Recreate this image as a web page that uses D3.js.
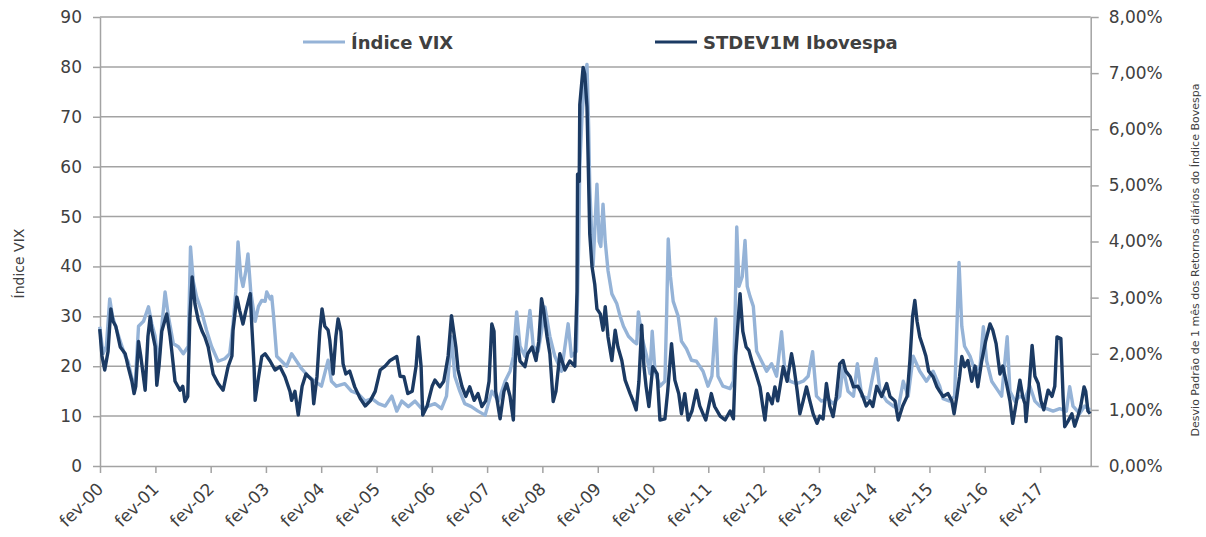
<!DOCTYPE html>
<html><head><meta charset="utf-8">
<script src="https://cdn.jsdelivr.net/npm/d3@7"></script>
<style>
html,body{margin:0;padding:0;background:#fff;}
svg{display:block;}
text{font-family:"DejaVu Sans",Verdana,sans-serif;fill:#404040;}
</style></head>
<body>
<svg id="chart" width="1206" height="537"></svg>
<script>
// ---- DATA (dates as decimal years) ----
const vixDates = [2000.08,2000.14,2000.20,2000.26,2000.31,2000.35,2000.45,2000.54,2000.59,2000.66,2000.72,2000.78,2000.87,2000.96,2001.02,2001.08,2001.14,2001.20,2001.26,2001.32,2001.41,2001.50,2001.59,2001.68,2001.72,2001.77,2001.83,2001.92,2002.01,2002.10,2002.22,2002.34,2002.43,2002.49,2002.54,2002.58,2002.63,2002.67,2002.72,2002.76,2002.81,2002.89,2002.95,2003.01,2003.07,2003.10,2003.16,2003.19,2003.22,2003.28,2003.37,2003.46,2003.55,2003.61,2003.73,2003.85,2003.97,2004.09,2004.21,2004.27,2004.36,2004.51,2004.63,2004.75,2004.88,2005.00,2005.12,2005.24,2005.36,2005.45,2005.54,2005.66,2005.78,2005.90,2006.02,2006.14,2006.26,2006.35,2006.44,2006.50,2006.59,2006.68,2006.80,2006.92,2007.05,2007.17,2007.29,2007.41,2007.50,2007.56,2007.62,2007.68,2007.77,2007.86,2007.92,2008.01,2008.07,2008.13,2008.22,2008.31,2008.43,2008.55,2008.61,2008.70,2008.74,2008.76,2008.80,2008.85,2008.89,2008.92,2008.94,2008.98,2009.00,2009.07,2009.11,2009.14,2009.18,2009.22,2009.27,2009.34,2009.43,2009.49,2009.55,2009.64,2009.73,2009.79,2009.82,2009.88,2009.97,2010.03,2010.07,2010.12,2010.21,2010.30,2010.33,2010.36,2010.40,2010.45,2010.54,2010.60,2010.69,2010.78,2010.87,2010.99,2011.08,2011.15,2011.22,2011.26,2011.35,2011.48,2011.54,2011.57,2011.60,2011.64,2011.70,2011.75,2011.79,2011.84,2011.90,2011.96,2012.05,2012.14,2012.23,2012.32,2012.41,2012.47,2012.56,2012.68,2012.80,2012.89,2012.97,2013.04,2013.13,2013.25,2013.34,2013.46,2013.52,2013.61,2013.71,2013.78,2013.86,2013.98,2014.12,2014.19,2014.31,2014.43,2014.52,2014.61,2014.70,2014.79,2014.91,2015.03,2015.15,2015.27,2015.33,2015.45,2015.54,2015.62,2015.67,2015.72,2015.82,2015.91,2016.00,2016.06,2016.12,2016.21,2016.30,2016.39,2016.49,2016.54,2016.63,2016.72,2016.81,2016.90,2016.99,2017.08,2017.20,2017.32,2017.44,2017.56,2017.62,2017.68,2017.80,2017.89,2017.99];
const vixValues = [27.9,22.5,24,33.5,30,28.5,25,22,21,17.5,16.5,28,29,31.9,28.5,26,20,28,34.9,30,24.5,23.9,22.5,24,43.9,37,33.9,31,27.2,24,21,21.5,22.5,28.5,35,44.9,38,36,39,42.5,35,29,32,33.2,33,34.9,33.5,34,30.5,22,21,20,22.5,21.5,19.5,18,17,16,21.2,17,16,16.5,15,14.5,13,13.5,12.5,12,14,11,13,11.9,13,11.5,12,12.5,11.5,14,25.9,18,15,12.5,11.9,11,10.2,15,13,17,19,22,30.9,24,22,31.2,24,23,27,31.9,26,22,19,28.5,22,23,45,60,70,78,80.5,68,56,45,40,56.5,45,44,52.5,45,39.2,34.5,32.5,30,28,26,25,24.5,30.9,26,22,18.5,27,19,16,17,30,45.5,38,33,30,25,23.5,21.2,21,19,16,18,29.5,18,16,15.5,17,30,47.9,36,38,45.2,36,34,32,23,21,19,20.5,18,26.9,19,17,16.5,17,18,22.9,14,13,13.5,12.5,14,19.9,15,14,20.5,14,13.5,21.5,15,13,12,11.5,17,14,22,19,17,19,16,13.5,13,14,40.8,28,24,22,19,20,27.9,21,17,15.5,14,25.9,15,13,14,13.5,16,13,12,11.5,11,11.5,11,15.9,12,10.5,12,11.2];

const ibovDates = [2000.08,2000.12,2000.17,2000.23,2000.28,2000.32,2000.37,2000.45,2000.54,2000.59,2000.66,2000.70,2000.73,2000.78,2000.82,2000.90,2000.95,2000.99,2001.02,2001.08,2001.11,2001.15,2001.20,2001.29,2001.35,2001.38,2001.44,2001.53,2001.58,2001.62,2001.67,2001.71,2001.75,2001.80,2001.86,2001.93,2001.98,2002.04,2002.13,2002.22,2002.31,2002.40,2002.47,2002.49,2002.56,2002.61,2002.67,2002.72,2002.80,2002.83,2002.87,2002.89,2002.94,2003.01,2003.07,2003.16,2003.25,2003.34,2003.43,2003.52,2003.55,2003.61,2003.67,2003.74,2003.81,2003.92,2003.95,2004.01,2004.06,2004.10,2004.15,2004.21,2004.24,2004.30,2004.35,2004.39,2004.44,2004.48,2004.53,2004.60,2004.69,2004.79,2004.88,2004.97,2005.06,2005.15,2005.24,2005.33,2005.45,2005.51,2005.58,2005.65,2005.73,2005.80,2005.84,2005.89,2005.92,2006.00,2006.09,2006.14,2006.23,2006.30,2006.38,2006.44,2006.48,2006.52,2006.56,2006.63,2006.70,2006.77,2006.85,2006.92,2006.99,2007.06,2007.12,2007.17,2007.21,2007.24,2007.32,2007.39,2007.44,2007.50,2007.56,2007.59,2007.62,2007.68,2007.77,2007.82,2007.90,2007.97,2008.02,2008.07,2008.11,2008.17,2008.22,2008.28,2008.33,2008.40,2008.49,2008.58,2008.67,2008.71,2008.72,2008.75,2008.76,2008.82,2008.85,2008.89,2008.91,2008.94,2008.98,2009.03,2009.07,2009.13,2009.18,2009.22,2009.27,2009.34,2009.40,2009.45,2009.52,2009.58,2009.67,2009.72,2009.78,2009.83,2009.88,2009.92,2009.96,2010.01,2010.08,2010.16,2010.21,2010.30,2010.35,2010.42,2010.48,2010.55,2010.60,2010.66,2010.72,2010.79,2010.87,2010.93,2010.99,2011.04,2011.14,2011.20,2011.30,2011.39,2011.48,2011.54,2011.58,2011.66,2011.71,2011.77,2011.82,2011.87,2011.95,2012.02,2012.07,2012.11,2012.16,2012.24,2012.29,2012.34,2012.44,2012.51,2012.59,2012.63,2012.69,2012.74,2012.80,2012.86,2012.92,2012.98,2013.05,2013.10,2013.16,2013.22,2013.28,2013.34,2013.40,2013.46,2013.52,2013.57,2013.65,2013.71,2013.79,2013.86,2013.94,2014.01,2014.06,2014.13,2014.22,2014.31,2014.37,2014.46,2014.52,2014.60,2014.68,2014.73,2014.78,2014.82,2014.86,2014.91,2014.97,2015.02,2015.07,2015.15,2015.22,2015.27,2015.33,2015.42,2015.49,2015.53,2015.58,2015.63,2015.67,2015.72,2015.78,2015.85,2015.91,2015.96,2016.03,2016.10,2016.18,2016.23,2016.29,2016.36,2016.41,2016.47,2016.54,2016.59,2016.65,2016.72,2016.77,2016.81,2016.83,2016.88,2016.94,2016.99,2017.05,2017.10,2017.15,2017.23,2017.30,2017.35,2017.39,2017.46,2017.50,2017.53,2017.59,2017.66,2017.71,2017.77,2017.82,2017.88,2017.91,2017.95,2017.99];
const ibovValues = [2.44,1.96,1.71,2.04,2.80,2.58,2.49,2.12,2.00,1.78,1.51,1.29,1.42,2.22,1.96,1.35,2.31,2.66,2.42,2.13,1.44,1.78,2.40,2.71,2.31,2.06,1.51,1.35,1.42,1.15,1.24,2.67,3.37,2.89,2.60,2.40,2.30,2.12,1.64,1.47,1.35,1.77,1.96,2.42,3.01,2.77,2.53,2.76,3.07,2.49,1.78,1.17,1.51,1.95,2.00,1.87,1.71,1.77,1.59,1.33,1.17,1.33,0.91,1.42,1.64,1.53,1.11,1.60,2.40,2.80,2.49,2.42,2.24,1.64,2.31,2.62,2.40,1.82,1.64,1.69,1.41,1.20,1.07,1.16,1.33,1.71,1.78,1.88,1.95,1.60,1.59,1.29,1.33,1.78,2.30,1.78,0.91,1.07,1.42,1.53,1.41,1.51,1.96,2.68,2.40,2.12,1.71,1.42,1.24,1.41,1.17,1.29,1.06,1.16,1.51,2.53,2.40,1.33,0.84,1.33,1.47,1.24,0.82,1.78,2.30,1.87,1.77,2.00,2.12,1.88,2.22,2.98,2.76,2.30,2.00,1.15,1.33,2.00,1.71,1.87,1.78,3.11,5.20,5.07,6.44,7.10,6.98,6.40,5.50,4.13,3.56,3.24,2.80,2.71,2.42,2.84,2.30,1.88,2.42,2.12,1.88,1.53,1.29,1.17,1.00,1.51,2.51,1.78,1.41,1.06,1.77,1.64,0.82,0.84,1.33,2.18,1.53,1.29,0.93,1.29,0.82,0.98,1.35,1.07,0.93,0.82,1.29,1.06,0.89,0.82,0.98,0.84,1.96,3.07,2.40,2.12,2.06,1.88,1.64,1.41,1.07,0.82,1.29,1.11,1.41,1.16,1.77,1.51,2.00,1.78,1.35,0.93,1.16,1.41,1.16,0.93,0.76,0.89,0.84,1.47,1.07,0.88,1.24,1.82,1.88,1.69,1.59,1.41,1.42,1.29,1.07,1.16,1.06,1.42,1.24,1.47,1.24,1.16,0.82,1.07,1.24,1.87,2.67,2.95,2.58,2.30,2.12,1.96,1.69,1.59,1.41,1.33,1.24,1.29,1.16,0.93,1.24,1.60,1.95,1.77,1.88,1.51,1.78,1.41,1.87,2.22,2.53,2.42,2.18,1.64,1.78,1.51,1.16,0.76,1.11,1.53,1.24,1.11,0.79,1.33,2.15,1.60,1.47,1.16,1.00,1.35,1.24,1.42,2.30,2.27,1.24,0.70,0.80,0.93,0.71,0.89,1.07,1.41,1.33,0.98,0.93];

const leftTicks = [0,10,20,30,40,50,60,70,80,90];
const rightTicks = [0,1,2,3,4,5,6,7,8];
const xTickYears = [2000,2001,2002,2003,2004,2005,2006,2007,2008,2009,2010,2011,2012,2013,2014,2015,2016,2017];
const xTickLabels = xTickYears.map(y => "fev-" + String(y % 100).padStart(2, "0"));
const seriesNames = ["Índice VIX", "STDEV1M Ibovespa"];
const leftTitle = "Índice VIX";
const rightTitle = "Desvio Padrão de 1 mês dos Retornos diários do Índice Bovespa";

// ---- LAYOUT ----
const M = {left: 100, right: 1090.7, top: 17, bottom: 466};
const colVix = "#95B3D7", colIbov = "#1B3A63", grid = "#A3A3A3";

function fromDec(y){
  const yr = Math.floor(y);
  const s = new Date(yr,0,1), e = new Date(yr+1,0,1);
  return new Date(+s + (y-yr)*(e-s));
}

const svg = d3.select("#chart");
const x = d3.scaleTime().domain([new Date(2000,1,1), new Date(2018,0,1)]).range([M.left, M.right]);
const yL = d3.scaleLinear().domain([0,90]).range([M.bottom, M.top]);
const yR = d3.scaleLinear().domain([0,8]).range([M.bottom, M.top]);

// gridlines
svg.append("g").selectAll("line").data(leftTicks.filter(d=>d>0)).join("line")
  .attr("x1", M.left).attr("x2", M.right)
  .attr("y1", d=>yL(d)).attr("y2", d=>yL(d))
  .attr("stroke", grid).attr("stroke-width", 1.5);

function styleAxis(g){
  g.selectAll("path.domain").attr("stroke", grid).attr("stroke-width", 1.5);
  g.selectAll(".tick line").attr("stroke", grid).attr("stroke-width", 1.5);
  g.selectAll(".tick text").attr("fill", "#3a3a3a")
    .style("font-family", '"DejaVu Sans",Verdana,sans-serif').style("font-size", "17px");
}

// left axis
const gL = svg.append("g").attr("transform", `translate(${M.left},0)`)
  .call(d3.axisLeft(yL).tickValues(leftTicks).tickSize(7).tickSizeOuter(0).tickPadding(11).tickFormat(d3.format("d")));
styleAxis(gL);

// right axis
const fmtPct = d => d.toFixed(2).replace(".", ",") + "%";
const gR = svg.append("g").attr("transform", `translate(${M.right},0)`)
  .call(d3.axisRight(yR).tickValues(rightTicks).tickSize(8).tickSizeOuter(0).tickPadding(10).tickFormat(fmtPct));
styleAxis(gR);

// bottom axis
const xTicks = xTickYears.map(y => new Date(y,1,1));
const gB = svg.append("g").attr("transform", `translate(0,${M.bottom})`)
  .call(d3.axisBottom(x).tickValues(xTicks).tickSize(7).tickSizeOuter(0).tickFormat((d,i)=>xTickLabels[i]));
styleAxis(gB);
gB.selectAll(".tick text")
  .attr("text-anchor", "end").attr("dy", null).attr("y", null)
  .attr("transform", "translate(4,24) rotate(-45)");

// lines
const lineV = d3.line().x((d,i)=>x(fromDec(vixDates[i]))).y(d=>yL(d));
const lineI = d3.line().x((d,i)=>x(fromDec(ibovDates[i]))).y(d=>yR(d));
svg.append("path").datum(vixValues).attr("d", lineV)
  .attr("fill","none").attr("stroke", colVix).attr("stroke-width", 3.4).attr("stroke-linejoin","round");
svg.append("path").datum(ibovValues).attr("d", lineI)
  .attr("fill","none").attr("stroke", colIbov).attr("stroke-width", 3.4).attr("stroke-linejoin","round");

// legend
const legend = [
  {name: seriesNames[0], color: colVix, x: 303},
  {name: seriesNames[1], color: colIbov, x: 655}
];
const lg = svg.append("g");
legend.forEach(l => {
  lg.append("line").attr("x1", l.x).attr("x2", l.x+42).attr("y1", 42).attr("y2", 42)
    .attr("stroke", l.color).attr("stroke-width", 3.2);
  lg.append("text").attr("x", l.x+48).attr("y", 49)
    .style("font-size","18px").style("font-weight","bold").attr("fill","#333").text(l.name);
});

// axis titles
svg.append("text").attr("transform", `translate(24,${(M.top+M.bottom)/2+22}) rotate(-90)`)
  .attr("text-anchor","middle").style("font-size","14px").text(leftTitle);
svg.append("text").attr("transform", `translate(1199,260) rotate(-90)`)
  .attr("text-anchor","middle").style("font-size","11px").attr("fill","#222").text(rightTitle);
</script>
</body></html>
